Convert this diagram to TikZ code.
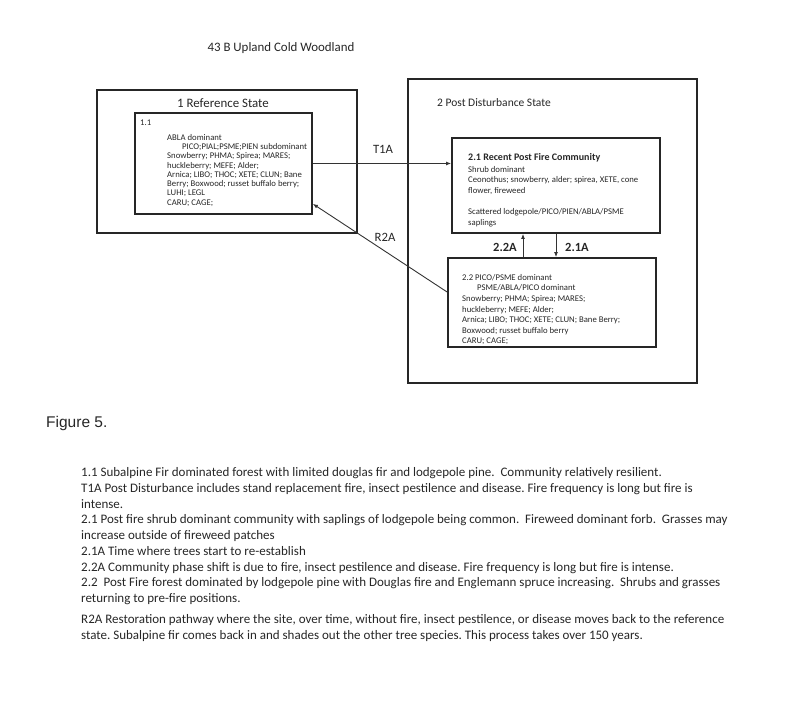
\documentclass[tikz,border=0pt]{standalone}
\usepackage{fontspec}
\setmainfont{Carlito}
\newfontfamily\arialfont{Liberation Sans}
\usetikzlibrary{arrows.meta}
\frenchspacing
\begin{document}
\begin{tikzpicture}[x=1pt,y=-1pt,
  stbox/.style={draw=black!85, line width=1.8pt, inner sep=0pt, rectangle},
  txt/.style={inner sep=0pt, anchor=base west, text=black!85},
  ctxt/.style={inner sep=0pt, anchor=base, text=black!85},
  para/.style={inner sep=0pt, anchor=north west, align=left, text=black!85},
  conn/.style={draw=black!80, line width=0.9pt, -{Latex[length=5pt,width=4pt]}},
  big/.style={font=\fontsize{12.9}{15}\selectfont},
  small/.style={font=\fontsize{8.7}{9.3}\selectfont},
  smallb/.style={font=\fontsize{8.7}{10.6}\selectfont}
]
\useasboundingbox (0,0) rectangle (800,708);

% title
\node[ctxt, big] (title) at (281,51.5) {43 B Upland Cold Woodland};

% state boxes
\node[stbox, minimum width=260pt, minimum height=143pt] (s1) at (227,161.5) {};
\node[stbox, minimum width=289pt, minimum height=304pt] (s2) at (552.5,231) {};
\node[ctxt, big] (s1lab) at (223,107.5) {1 Reference State};
\node[txt, font=\fontsize{11.5}{14}\selectfont] (s2lab) at (437,107) {2 Post Disturbance State};

% community boxes
\node[stbox, minimum width=177pt, minimum height=101pt] (b11) at (223.5,163.5) {};
\node[stbox, minimum width=208pt, minimum height=95pt] (b21) at (556,185.5) {};
\node[stbox, minimum width=208pt, minimum height=89pt] (b22) at (552,302.5) {};

% 1.1 text
\node[txt, small] (t11a) at (140,126) {1.1};
\node[para, small] (t11b) at (167,130) {\rule{0pt}{10pt}ABLA dominant\\
\hspace*{15pt}PICO;PIAL;PSME;PIEN subdominant\\
Snowberry; PHMA; Spirea; MARES;\\
huckleberry; MEFE; Alder;\\
Arnica; LIBO; THOC; XETE; CLUN; Bane\\
Berry; Boxwood; russet buffalo berry;\\
LUHI; LEGL\\
CARU; CAGE;};

% 2.1 text
\node[txt, font=\fontsize{10}{12}\selectfont\bfseries] (t21a) at (468,161) {2.1 Recent Post Fire Community};
\node[para, smallb] (t21b) at (468,162) {\rule{0pt}{10pt}Shrub dominant\\
Ceonothus; snowberry, alder; spirea, XETE, cone\\
flower, fireweed\\[10.6pt]
Scattered lodgepole/PICO/PIEN/ABLA/PSME\\
saplings};

% 2.2 text
\node[para, smallb] (t22) at (462,270) {\rule{0pt}{10pt}2.2 PICO/PSME dominant\\
\hspace*{15pt}PSME/ABLA/PICO dominant\\
Snowberry; PHMA; Spirea; MARES;\\
huckleberry; MEFE; Alder;\\
Arnica; LIBO; THOC; XETE; CLUN; Bane Berry;\\
Boxwood; russet buffalo berry\\
CARU; CAGE;};

% connectors
\draw[conn] (b11.east) -- (b11.east -| b21.west);
\draw[conn] ([yshift=10.5pt]b22.west) -- ([yshift=11pt]b11.south east);
\draw[conn] (b21.south) -- (b21.south |- b22.north);
\draw[conn] ([xshift=-33pt]b21.south |- b22.north) -- ([xshift=-33pt]b21.south);

\node[ctxt, font=\fontsize{12.7}{15}\selectfont] (lt1a) at (383,153.5) {T1A};
\node[ctxt, font=\fontsize{12.7}{15}\selectfont] (lr2a) at (385,241.5) {R2A};
\node[ctxt, font=\fontsize{12.5}{15}\selectfont\bfseries] (l22a) at (505,252) {2.2A};
\node[ctxt, font=\fontsize{12.5}{15}\selectfont\bfseries] (l21a) at (577,252) {2.1A};

% figure caption
\node[txt, font=\arialfont\fontsize{15.5}{18}\selectfont] (fig) at (46,427) {Figure 5.};

% description
\node[para, font=\fontsize{13}{15.75}\selectfont] (desc) at (81,463.5) {\rule{0pt}{13pt}1.1 Subalpine Fir dominated forest with limited douglas fir and lodgepole pine.\ \ Community relatively resilient.\\
T1A Post Disturbance includes stand replacement fire, insect pestilence and disease. Fire frequency is long but fire is\\
intense.\\
2.1 Post fire shrub dominant community with saplings of lodgepole being common.\ \ Fireweed dominant forb.\ \ Grasses may\\
increase outside of fireweed patches\\
2.1A Time where trees start to re-establish\\
2.2A Community phase shift is due to fire, insect pestilence and disease. Fire frequency is long but fire is intense.\\
2.2\ \ Post Fire forest dominated by lodgepole pine with Douglas fire and Englemann spruce increasing.\ \ Shrubs and grasses\\
returning to pre-fire positions.};
\node[para, font=\fontsize{13}{15.75}\selectfont] (descr2a) at (81,610.5) {\rule{0pt}{13pt}R2A Restoration pathway where the site, over time, without fire, insect pestilence, or disease moves back to the reference\\
state. Subalpine fir comes back in and shades out the other tree species. This process takes over 150 years.};
\end{tikzpicture}
\end{document}
